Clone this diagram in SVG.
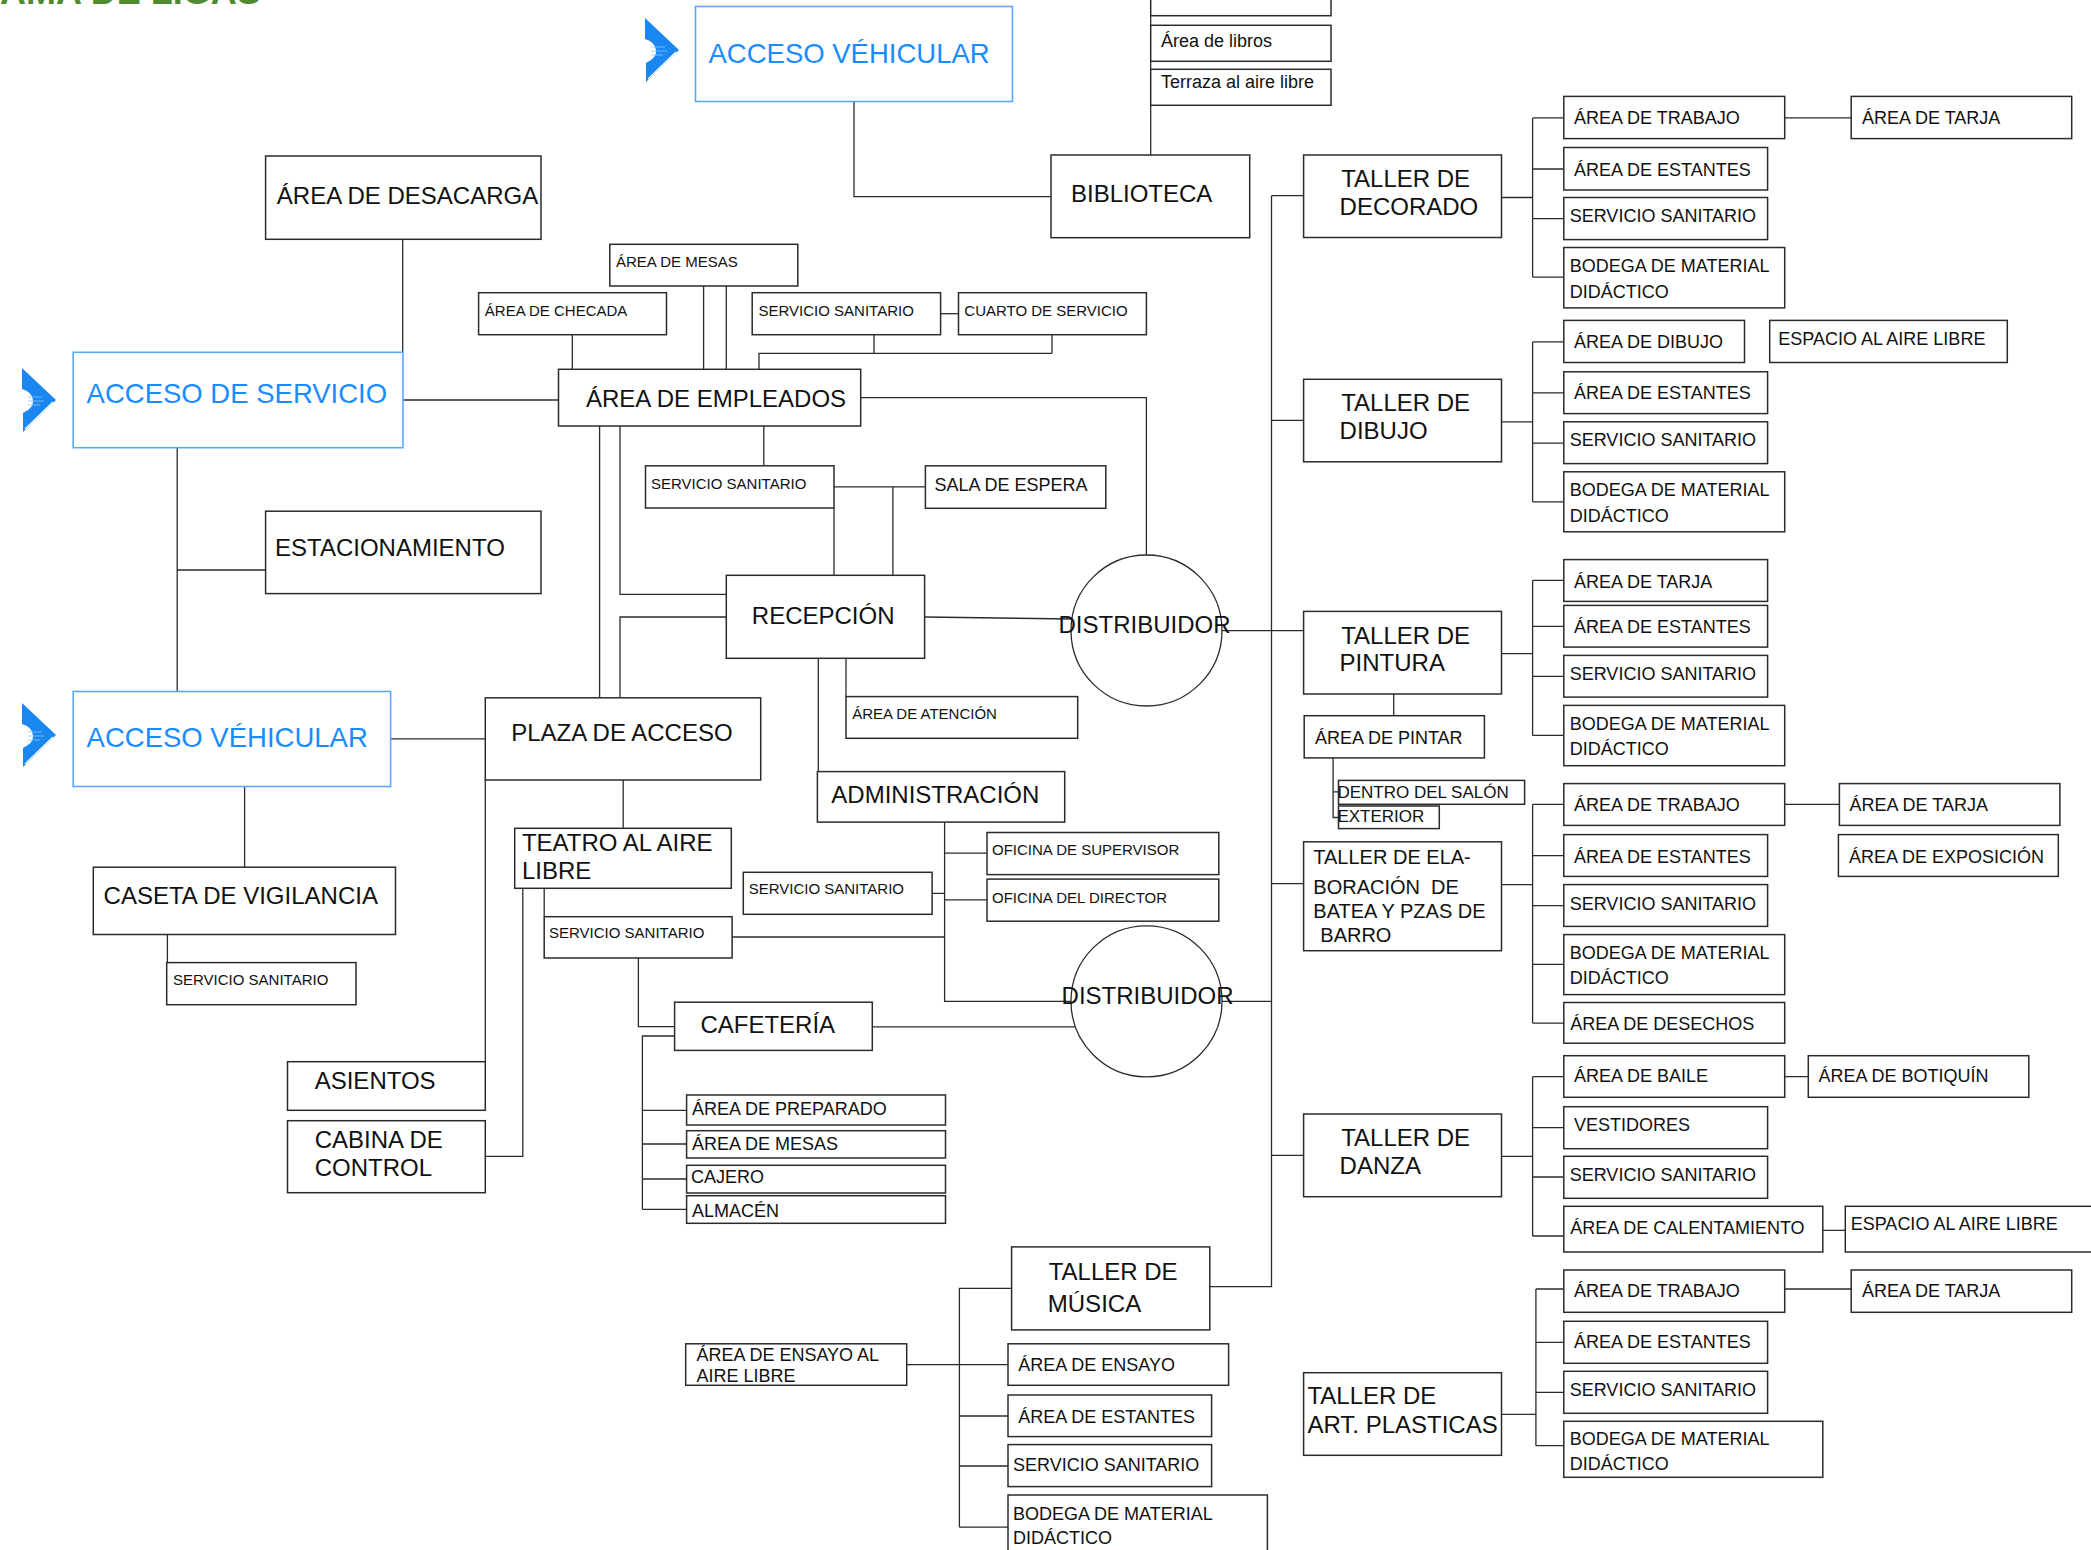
<svg xmlns="http://www.w3.org/2000/svg" width="2091" height="1550" viewBox="0 0 2091 1550">
<style>
.bx{fill:#fff;stroke:#2b2b2b;stroke-width:1.5}
.bb{fill:#fff;stroke:#58a8ff;stroke-width:1.6}
.ci{fill:#fff;stroke:#2b2b2b;stroke-width:1.3}
.c{fill:none;stroke:#2b2b2b;stroke-width:1.3}
text{font-family:"Liberation Sans",Arial,sans-serif;fill:#111}
.L{font-size:24px}
.M{font-size:18px}
.S{font-size:15px}
.D{font-size:17px}
.E{font-size:20px;white-space:pre}
.B{font-size:27.5px;fill:#1a8cff}
.ttl{font-size:36px;font-weight:bold;fill:#4f8a2e}
.arw{fill:#1a86f0}
.hl{fill:none;stroke:#fff;stroke-width:1.2}
</style>
<defs>
<g id="arrow">
<path class="arw" d="M0,0 L34,32 L1,64 L1,45 Q12,40 11,32 Q10,24 0,21 Z"/>
<path class="hl" d="M31,34 L3,61"/>
<path d="M6,29 H20 M6,33 H22 M6,37 H18" stroke="#8cc4ff" stroke-width="0.8" fill="none"/>
</g>
</defs>
<rect width="2091" height="1550" fill="#fff"/>
<text class="ttl" x="0" y="4">AMA DE LIGAS</text>
<g id="connectors">
<path class="c" d="M854,101.5 V196.7 H1051"/>
<path class="c" d="M1150.7,0 V155"/>
<path class="c" d="M402.7,239.3 V352.3"/>
<path class="c" d="M403,400 H558.5"/>
<path class="c" d="M572.3,334.7 V369.3"/>
<path class="c" d="M703.6,286 V369.3 M726.3,286 V369.3"/>
<path class="c" d="M940.6,313.7 H958.5"/>
<path class="c" d="M874,334.7 V353.3 M1052,334.7 V353.3 M759,369.3 V353.3 H1052"/>
<path class="c" d="M860.7,397.7 H1146.4 V555"/>
<path class="c" d="M177.2,447.7 V691.5 M177.2,570 H265.6"/>
<path class="c" d="M390.6,738.8 H485.3"/>
<path class="c" d="M244.6,786.5 V867.2"/>
<path class="c" d="M167.4,934.5 V962.6"/>
<path class="c" d="M599.6,426 V697.8"/>
<path class="c" d="M620,426 V594.4 H726.3"/>
<path class="c" d="M726.3,617 H620 V697.8"/>
<path class="c" d="M763.8,426 V465.8"/>
<path class="c" d="M834,486.9 H925.4 M834,508 V575.3 M892.9,486.9 V575.3"/>
<path class="c" d="M924.6,617 L1072,619"/>
<path class="c" d="M1222,630.6 H1303.6"/>
<path class="c" d="M1271.5,195.7 V1286.7 H1209.8 M1271.5,195.7 H1303.6 M1271.5,420.4 H1303.6 M1271.5,883.6 H1303.6 M1271.5,1155.3 H1303.6"/>
<path class="c" d="M1222,1001.3 H1271.5"/>
<path class="c" d="M818.3,658.3 V771.6 M846,658.3 V696.6"/>
<path class="c" d="M944.6,822.1 V1001.3 H1071 M944.6,853.1 H987 M944.6,899.8 H987 M932.1,893.3 H944.6 M732.1,937 H944.6"/>
<path class="c" d="M623.2,780 V828.3"/>
<path class="c" d="M485.3,780 V1061.7"/>
<path class="c" d="M522.8,888.3 V1156.3 H485.3"/>
<path class="c" d="M544.2,888.3 V916.7"/>
<path class="c" d="M638.4,958 V1026.7 H674.6"/>
<path class="c" d="M872.3,1026.8 H1075.4"/>
<path class="c" d="M674.6,1036 H642.4 V1209.3 M642.4,1110.3 H686.6 M642.4,1144 H686.6 M642.4,1179 H686.6 M642.4,1209.3 H686.6"/>
<path class="c" d="M1011.6,1288.4 H959.4 V1527.2 M906.7,1364.7 H1008 M959.4,1416 H1008 M959.4,1466 H1008 M959.4,1527.2 H1008"/>
<path class="c" d="M1501.5,197.5 H1532.6 M1532.6,117.9 V277.1 M1532.6,117.9 H1563.8 M1532.6,169 H1563.8 M1532.6,218.6 H1563.8 M1532.6,277.1 H1563.8 M1784.7,117.9 H1851.2"/>
<path class="c" d="M1501.5,421.8 H1532.6 M1532.6,341.8 V501.8 M1532.6,341.8 H1563.8 M1532.6,392.9 H1563.8 M1532.6,443.2 H1563.8 M1532.6,501.8 H1563.8"/>
<path class="c" d="M1501.5,653.6 H1532.6 M1532.6,580.4 V735.4 M1532.6,580.4 H1563.8 M1532.6,626.4 H1563.8 M1532.6,676.4 H1563.8 M1532.6,735.4 H1563.8"/>
<path class="c" d="M1393.7,694 V715.7 M1333.1,757.9 V817.5 H1338.5 M1333.1,791.8 H1338.5"/>
<path class="c" d="M1501.5,884.6 H1532.6 M1532.6,804.3 V1023.2 M1532.6,804.3 H1563.8 M1532.6,855.7 H1563.8 M1532.6,905.7 H1563.8 M1532.6,964.3 H1563.8 M1532.6,1023.2 H1563.8 M1784.7,804.3 H1839.4"/>
<path class="c" d="M1501.5,1156.3 H1532.6 M1532.6,1076.7 V1236 M1532.6,1076.7 H1563.8 M1532.6,1127.7 H1563.8 M1532.6,1177 H1563.8 M1532.6,1236 H1563.8 M1784.7,1076.7 H1808.3 M1822.8,1230.3 H1845.3"/>
<path class="c" d="M1501.5,1414.3 H1535.9 M1535.9,1289 V1445.7 M1535.9,1289 H1563.8 M1535.9,1342.3 H1563.8 M1535.9,1392.3 H1563.8 M1535.9,1445.7 H1563.8 M1784.7,1289 H1851.2"/>
</g>
<g id="arrow-top"><use href="#arrow" x="645" y="18"/></g>
<g id="arrow-servicio"><use href="#arrow" x="22" y="368"/></g>
<g id="arrow-vehicular"><use href="#arrow" x="22" y="703"/></g>
<g id="acceso-vehicular-top"><rect class="bb" x="695.5" y="6.5" width="317" height="95"/><text class="B" x="708.5" y="62.7">ACCESO VÉHICULAR</text></g>
<g id="biblio-top-box"><rect class="bx" x="1150.7" y="-30" width="180.3" height="45.7"/></g>
<g id="area-libros"><rect class="bx" x="1150.7" y="25.3" width="180.3" height="36"/><text class="M" x="1161" y="46.7">Área de libros</text></g>
<g id="terraza"><rect class="bx" x="1150.7" y="69.3" width="180.3" height="36"/><text class="M" x="1161" y="87.7">Terraza al aire libre</text></g>
<g id="biblioteca"><rect class="bx" x="1051" y="155" width="198.7" height="82.7"/><text class="L" x="1071" y="202">BIBLIOTECA</text></g>
<g id="desacarga"><rect class="bx" x="265.6" y="156" width="275.4" height="83.3"/><text class="L" x="276.8" y="204">ÁREA DE DESACARGA</text></g>
<g id="acceso-servicio"><rect class="bb" x="73.2" y="352.3" width="329.8" height="95.4"/><text class="B" x="86.6" y="403.3">ACCESO DE SERVICIO</text></g>
<g id="checada"><rect class="bx" x="478.6" y="292.7" width="187.9" height="42"/><text class="S" x="484.8" y="315.7">ÁREA DE CHECADA</text></g>
<g id="mesas-empleados"><rect class="bx" x="609.8" y="244.3" width="188" height="41.7"/><text class="S" x="616" y="266.7">ÁREA DE MESAS</text></g>
<g id="ss-empleados"><rect class="bx" x="752.2" y="292.7" width="188.4" height="42"/><text class="S" x="758.5" y="315.7">SERVICIO SANITARIO</text></g>
<g id="cuarto-servicio"><rect class="bx" x="958.5" y="292.7" width="187.9" height="42"/><text class="S" x="964.3" y="315.7">CUARTO DE SERVICIO</text></g>
<g id="empleados"><rect class="bx" x="558.5" y="369.3" width="302.2" height="56.7"/><text class="L" x="586" y="407.3">ÁREA DE EMPLEADOS</text></g>
<g id="ss-recepcion"><rect class="bx" x="645.5" y="465.8" width="188.5" height="42.2"/><text class="S" x="651" y="488.8">SERVICIO SANITARIO</text></g>
<g id="sala-espera"><rect class="bx" x="925.4" y="465.8" width="180.4" height="42.5"/><text class="M" x="934.4" y="491">SALA DE ESPERA</text></g>
<g id="estacionamiento"><rect class="bx" x="265.6" y="511.2" width="275.4" height="82.4"/><text class="L" x="275" y="556">ESTACIONAMIENTO</text></g>
<g id="recepcion"><rect class="bx" x="726.3" y="575.3" width="198.3" height="83"/><text class="L" x="751.8" y="623.9">RECEPCIÓN</text></g>
<g id="distribuidor-1"><circle class="ci" cx="1146.5" cy="630.5" r="75.5"/><text class="L" x="1058.5" y="633.4">DISTRIBUIDOR</text></g>
<g id="acceso-vehicular-left"><rect class="bb" x="73.2" y="691.5" width="317.4" height="95"/><text class="B" x="86.6" y="747.2">ACCESO VÉHICULAR</text></g>
<g id="plaza-acceso"><rect class="bx" x="485.3" y="697.8" width="275.4" height="82.2"/><text class="L" x="511.2" y="741.3">PLAZA DE ACCESO</text></g>
<g id="atencion"><rect class="bx" x="846" y="696.6" width="231.7" height="41.7"/><text class="S" x="852.2" y="718.8">ÁREA DE ATENCIÓN</text></g>
<g id="administracion"><rect class="bx" x="817.4" y="771.6" width="247.3" height="50.5"/><text class="L" x="831.3" y="803">ADMINISTRACIÓN</text></g>
<g id="supervisor"><rect class="bx" x="987" y="832.5" width="231.8" height="42.1"/><text class="S" x="992" y="855.4">OFICINA DE SUPERVISOR</text></g>
<g id="director"><rect class="bx" x="987" y="879.1" width="231.8" height="42.1"/><text class="S" x="992" y="902.5">OFICINA DEL DIRECTOR</text></g>
<g id="teatro"><rect class="bx" x="514.7" y="828.3" width="216.6" height="60"/><text class="L" x="521.9" y="850.7">TEATRO AL AIRE</text><text class="L" x="521.9" y="879.3">LIBRE</text></g>
<g id="ss-admin"><rect class="bx" x="743.3" y="872.3" width="188.8" height="42"/><text class="S" x="748.7" y="894.3">SERVICIO SANITARIO</text></g>
<g id="caseta"><rect class="bx" x="93.3" y="867.2" width="302.2" height="67.3"/><text class="L" x="103.6" y="904">CASETA DE VIGILANCIA</text></g>
<g id="ss-teatro"><rect class="bx" x="544.2" y="916.7" width="187.9" height="41.3"/><text class="S" x="549" y="938.3">SERVICIO SANITARIO</text></g>
<g id="ss-caseta"><rect class="bx" x="166.7" y="962.6" width="189.3" height="42.1"/><text class="S" x="173" y="985.2">SERVICIO SANITARIO</text></g>
<g id="distribuidor-2"><circle class="ci" cx="1146.5" cy="1001.3" r="75.5"/><text class="L" x="1061.6" y="1004">DISTRIBUIDOR</text></g>
<g id="cafeteria"><rect class="bx" x="674.6" y="1002.2" width="197.7" height="48.2"/><text class="L" x="700.4" y="1033">CAFETERÍA</text></g>
<g id="asientos"><rect class="bx" x="287.5" y="1061.7" width="197.8" height="48.6"/><text class="L" x="314.7" y="1089.3">ASIENTOS</text></g>
<g id="cabina"><rect class="bx" x="287.5" y="1120.7" width="197.8" height="72"/><text class="L" x="314.7" y="1147.7">CABINA DE</text><text class="L" x="314.7" y="1176">CONTROL</text></g>
<g id="preparado"><rect class="bx" x="686.6" y="1095" width="258.9" height="30"/><text class="M" x="692" y="1115">ÁREA DE PREPARADO</text></g>
<g id="mesas-cafe"><rect class="bx" x="686.6" y="1130.7" width="258.9" height="27.3"/><text class="M" x="692" y="1150">ÁREA DE MESAS</text></g>
<g id="cajero"><rect class="bx" x="686.6" y="1165.3" width="258.9" height="27.7"/><text class="M" x="691" y="1183.3">CAJERO</text></g>
<g id="almacen"><rect class="bx" x="686.6" y="1195.7" width="258.9" height="27.6"/><text class="M" x="692" y="1217.3">ALMACÉN</text></g>
<g id="musica"><rect class="bx" x="1011.6" y="1246.9" width="198.2" height="83"/><text class="L" x="1048.7" y="1279.5">TALLER DE</text><text class="L" x="1047.8" y="1312">MÚSICA</text></g>
<g id="ensayo-aire"><rect class="bx" x="685.7" y="1343.8" width="221" height="41.5"/><text class="M" x="696.4" y="1361.2">ÁREA DE ENSAYO AL</text><text class="M" x="696.4" y="1382">AIRE LIBRE</text></g>
<g id="ensayo"><rect class="bx" x="1008" y="1343.8" width="220.6" height="41.5"/><text class="M" x="1018.3" y="1371.4">ÁREA DE ENSAYO</text></g>
<g id="estantes-musica"><rect class="bx" x="1008" y="1395" width="203.6" height="41.6"/><text class="M" x="1018.3" y="1423.2">ÁREA DE ESTANTES</text></g>
<g id="ss-musica"><rect class="bx" x="1008" y="1444.6" width="203.6" height="42"/><text class="M" x="1013" y="1470.5">SERVICIO SANITARIO</text></g>
<g id="bodega-musica"><rect class="bx" x="1008" y="1495" width="259.4" height="70"/><text class="M" x="1013" y="1519.6">BODEGA DE MATERIAL</text><text class="M" x="1013" y="1544.2">DIDÁCTICO</text></g>
<g id="decorado"><rect class="bx" x="1303.6" y="155" width="197.9" height="82.5"/><text class="L" x="1341.2" y="186.8">TALLER DE</text><text class="L" x="1339.6" y="215">DECORADO</text></g>
<g id="dec-trabajo"><rect class="bx" x="1563.8" y="96.4" width="220.9" height="42.2"/><text class="M" x="1574" y="124">ÁREA DE TRABAJO</text></g>
<g id="dec-tarja"><rect class="bx" x="1851.2" y="96.4" width="220.5" height="42.2"/><text class="M" x="1862" y="124">ÁREA DE TARJA</text></g>
<g id="dec-estantes"><rect class="bx" x="1563.8" y="147.5" width="203.8" height="42.5"/><text class="M" x="1574" y="175.7">ÁREA DE ESTANTES</text></g>
<g id="dec-ss"><rect class="bx" x="1563.8" y="197.5" width="203.8" height="42.1"/><text class="M" x="1569.7" y="222">SERVICIO SANITARIO</text></g>
<g id="dec-bodega"><rect class="bx" x="1563.8" y="247.5" width="220.9" height="60.4"/><text class="M" x="1569.7" y="272">BODEGA DE MATERIAL</text><text class="M" x="1569.7" y="297.9">DIDÁCTICO</text></g>
<g id="dibujo"><rect class="bx" x="1303.6" y="379.3" width="197.9" height="82.5"/><text class="L" x="1341.2" y="410.7">TALLER DE</text><text class="L" x="1339.6" y="439.3">DIBUJO</text></g>
<g id="dib-dibujo"><rect class="bx" x="1563.8" y="320.4" width="180.7" height="42.1"/><text class="M" x="1574" y="348.2">ÁREA DE DIBUJO</text></g>
<g id="dib-espacio"><rect class="bx" x="1769.7" y="320.4" width="237.6" height="42.1"/><text class="M" x="1778.3" y="344.6">ESPACIO AL AIRE LIBRE</text></g>
<g id="dib-estantes"><rect class="bx" x="1563.8" y="371.8" width="203.8" height="41.8"/><text class="M" x="1574" y="399.3">ÁREA DE ESTANTES</text></g>
<g id="dib-ss"><rect class="bx" x="1563.8" y="421.8" width="203.8" height="41.8"/><text class="M" x="1569.7" y="446.4">SERVICIO SANITARIO</text></g>
<g id="dib-bodega"><rect class="bx" x="1563.8" y="471.8" width="220.9" height="60"/><text class="M" x="1569.7" y="496.4">BODEGA DE MATERIAL</text><text class="M" x="1569.7" y="522.1">DIDÁCTICO</text></g>
<g id="pintura"><rect class="bx" x="1303.6" y="611.4" width="197.9" height="82.6"/><text class="L" x="1341.2" y="643.6">TALLER DE</text><text class="L" x="1339.6" y="671.4">PINTURA</text></g>
<g id="pin-tarja"><rect class="bx" x="1563.8" y="559.6" width="203.8" height="41.8"/><text class="M" x="1574" y="587.5">ÁREA DE TARJA</text></g>
<g id="pin-estantes"><rect class="bx" x="1563.8" y="605.4" width="203.8" height="41.7"/><text class="M" x="1574" y="632.9">ÁREA DE ESTANTES</text></g>
<g id="pin-ss"><rect class="bx" x="1563.8" y="655.4" width="203.8" height="41.7"/><text class="M" x="1569.7" y="679.6">SERVICIO SANITARIO</text></g>
<g id="pin-bodega"><rect class="bx" x="1563.8" y="705.4" width="220.9" height="60.3"/><text class="M" x="1569.7" y="729.6">BODEGA DE MATERIAL</text><text class="M" x="1569.7" y="754.6">DIDÁCTICO</text></g>
<g id="pintar"><rect class="bx" x="1304.2" y="715.7" width="180.2" height="42.2"/><text class="M" x="1314.9" y="743.6">ÁREA DE PINTAR</text></g>
<g id="dentro-salon"><rect class="bx" x="1338.5" y="780.4" width="186.1" height="23.9"/><text class="D" x="1337.4" y="797.9">DENTRO DEL SALÓN</text></g>
<g id="exterior"><rect class="bx" x="1338.5" y="806" width="100.8" height="22.6"/><text class="D" x="1337.4" y="822.1">EXTERIOR</text></g>
<g id="elaboracion"><rect class="bx" x="1303.6" y="841.8" width="197.9" height="108.9"/><text class="E" x="1313.3" y="864.3">TALLER DE ELA-</text><text class="E" x="1313.3" y="893.6" xml:space="preserve">BORACIÓN  DE</text><text class="E" x="1313.3" y="917.5">BATEA Y PZAS DE</text><text class="E" x="1320.3" y="941.8">BARRO</text></g>
<g id="ela-trabajo"><rect class="bx" x="1563.8" y="783.6" width="220.9" height="41.8"/><text class="M" x="1574" y="811.4">ÁREA DE TRABAJO</text></g>
<g id="ela-tarja"><rect class="bx" x="1839.4" y="783.6" width="220.5" height="41.8"/><text class="M" x="1849.6" y="811.4">ÁREA DE TARJA</text></g>
<g id="ela-exposicion"><rect class="bx" x="1838.4" y="834.6" width="219.9" height="41.8"/><text class="M" x="1849" y="862.5">ÁREA DE EXPOSICIÓN</text></g>
<g id="ela-estantes"><rect class="bx" x="1563.8" y="834.6" width="203.8" height="41.8"/><text class="M" x="1574" y="862.5">ÁREA DE ESTANTES</text></g>
<g id="ela-ss"><rect class="bx" x="1563.8" y="884.6" width="203.8" height="41.8"/><text class="M" x="1569.7" y="909.6">SERVICIO SANITARIO</text></g>
<g id="ela-bodega"><rect class="bx" x="1563.8" y="934.6" width="220.9" height="60"/><text class="M" x="1569.7" y="959">BODEGA DE MATERIAL</text><text class="M" x="1569.7" y="983.9">DIDÁCTICO</text></g>
<g id="ela-desechos"><rect class="bx" x="1563.8" y="1002.5" width="220.9" height="40.7"/><text class="M" x="1570.2" y="1030">ÁREA DE DESECHOS</text></g>
<g id="danza"><rect class="bx" x="1303.6" y="1114" width="197.9" height="82.7"/><text class="L" x="1341.2" y="1146">TALLER DE</text><text class="L" x="1339.6" y="1174.3">DANZA</text></g>
<g id="dan-baile"><rect class="bx" x="1563.8" y="1055.7" width="220.9" height="41.6"/><text class="M" x="1574" y="1082.3">ÁREA DE BAILE</text></g>
<g id="dan-botiquin"><rect class="bx" x="1808.3" y="1055.7" width="220.5" height="41.6"/><text class="M" x="1818.5" y="1082.3">ÁREA DE BOTIQUÍN</text></g>
<g id="dan-vestidores"><rect class="bx" x="1563.8" y="1106.7" width="203.8" height="42"/><text class="M" x="1574" y="1130.7">VESTIDORES</text></g>
<g id="dan-ss"><rect class="bx" x="1563.8" y="1156.3" width="203.8" height="42"/><text class="M" x="1569.7" y="1180.7">SERVICIO SANITARIO</text></g>
<g id="dan-calentamiento"><rect class="bx" x="1563.8" y="1206.3" width="259" height="45.7"/><text class="M" x="1570.2" y="1233.7">ÁREA DE CALENTAMIENTO</text></g>
<g id="dan-espacio"><rect class="bx" x="1845.3" y="1206.3" width="250" height="45.7"/><text class="M" x="1850.7" y="1230.3">ESPACIO AL AIRE LIBRE</text></g>
<g id="plasticas"><rect class="bx" x="1303.6" y="1372.7" width="197.9" height="82.6"/><text class="L" x="1307.4" y="1404">TALLER DE</text><text class="L" x="1307.4" y="1432.7">ART. PLASTICAS</text></g>
<g id="pla-trabajo"><rect class="bx" x="1563.8" y="1270" width="220.9" height="42.3"/><text class="M" x="1574" y="1297.3">ÁREA DE TRABAJO</text></g>
<g id="pla-tarja"><rect class="bx" x="1851.2" y="1270" width="220.5" height="42.3"/><text class="M" x="1862" y="1297.3">ÁREA DE TARJA</text></g>
<g id="pla-estantes"><rect class="bx" x="1563.8" y="1321.3" width="203.8" height="42"/><text class="M" x="1574" y="1347.7">ÁREA DE ESTANTES</text></g>
<g id="pla-ss"><rect class="bx" x="1563.8" y="1371.3" width="203.8" height="42"/><text class="M" x="1569.7" y="1395.7">SERVICIO SANITARIO</text></g>
<g id="pla-bodega"><rect class="bx" x="1563.8" y="1421.3" width="259" height="56"/><text class="M" x="1569.7" y="1445">BODEGA DE MATERIAL</text><text class="M" x="1569.7" y="1470">DIDÁCTICO</text></g>
</svg>
